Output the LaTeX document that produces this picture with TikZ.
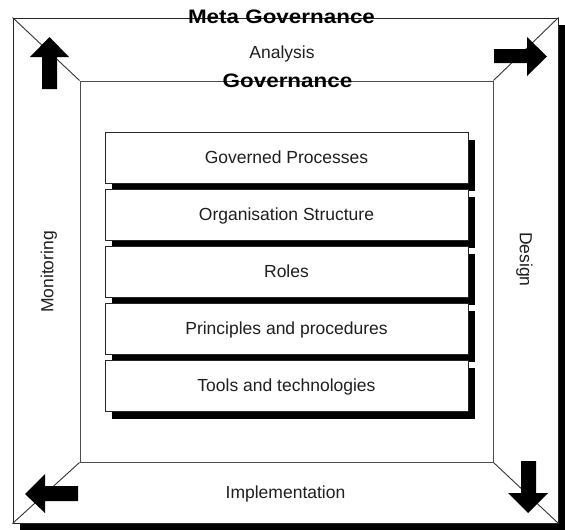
\documentclass[tikz,border=0pt]{standalone}
\usepackage{fontspec}
\setmainfont{Liberation Sans}
\newfontfamily\titlefont[FakeStretch=1.15]{Liberation Sans}
\usetikzlibrary{shadows}
\begin{document}
\begin{tikzpicture}[x=1pt,y=-1pt,
  frame/.style={draw=black!85, line width=1pt, fill=white, inner sep=0pt},
  outerframe/.style={frame, minimum width=545pt, minimum height=505pt,
    drop shadow={shadow xshift=7pt, shadow yshift=-7pt, opacity=1, fill=black}},
  innerframe/.style={frame, draw=black!70, minimum width=413pt, minimum height=381pt},
  layerbox/.style={frame, minimum width=363pt, minimum height=51pt,
    font=\fontsize{17.5}{20}\selectfont, text=black!88, text height=12.5pt, text depth=0pt,
    drop shadow={shadow xshift=7pt, shadow yshift=-8pt, opacity=1, fill=black}},
  sidelabel/.style={inner sep=0pt, font=\fontsize{17.5}{20}\selectfont, text=black!88,
    text height=12.5pt, text depth=0pt},
  titlelabel/.style={inner sep=0pt, anchor=base, font=\titlefont\bfseries\fontsize{19.5}{22}\selectfont},
  diag/.style={draw=black!80, line width=0.9pt},
  bigarrow/.style={fill=black}
]
\useasboundingbox (0,0) rectangle (565,530);

\node[outerframe] (outer) at (285.5,270.5) {};
\node[innerframe] (inner) at (286.5,271.5) {};

\draw[diag] (outer.north west) -- (inner.north west);
\draw[diag] (outer.north east) -- (inner.north east);
\draw[diag] (outer.south west) -- (inner.south west);
\draw[diag] (outer.south east) -- (inner.south east);

% arrows
\fill[bigarrow] (49.5,37) -- (69,57) -- (57,57) -- (57,89) -- (42,89) -- (42,57) -- (30,57) -- cycle;
\fill[bigarrow] (547,56.5) -- (527,76) -- (527,63) -- (494,63) -- (494,49) -- (527,49) -- (527,37) -- cycle;
\fill[bigarrow] (25,494) -- (45,474) -- (45,486) -- (78,486) -- (78,501) -- (45,501) -- (45,513) -- cycle;
\fill[bigarrow] (528,513) -- (508,493) -- (521,493) -- (521,461) -- (536,461) -- (536,493) -- (548,493) -- cycle;

% labels
\node[titlelabel] (meta) at (281.5,23.5) {Meta Governance};
\node[titlelabel] (gov) at (287.5,87.5) {Governance};
\node[sidelabel] (analysis) at (282,52) {Analysis};
\node[sidelabel] (impl) at (285.5,492.5) {Implementation};
\node[sidelabel, rotate=90] (monitor) at (47,272) {Monitoring};
\node[sidelabel, rotate=-90] (design) at (526,259.5) {Design};

% layers
\node[layerbox] (b1) at (286.5,157.5) {Governed Processes};
\node[layerbox] (b2) at (286.5,214.5) {Organisation Structure};
\node[layerbox] (b3) at (286.5,271.5) {Roles};
\node[layerbox] (b4) at (286.5,328.5) {Principles and procedures};
\node[layerbox] (b5) at (286.5,385.5) {Tools and technologies};
\end{tikzpicture}
\end{document}
